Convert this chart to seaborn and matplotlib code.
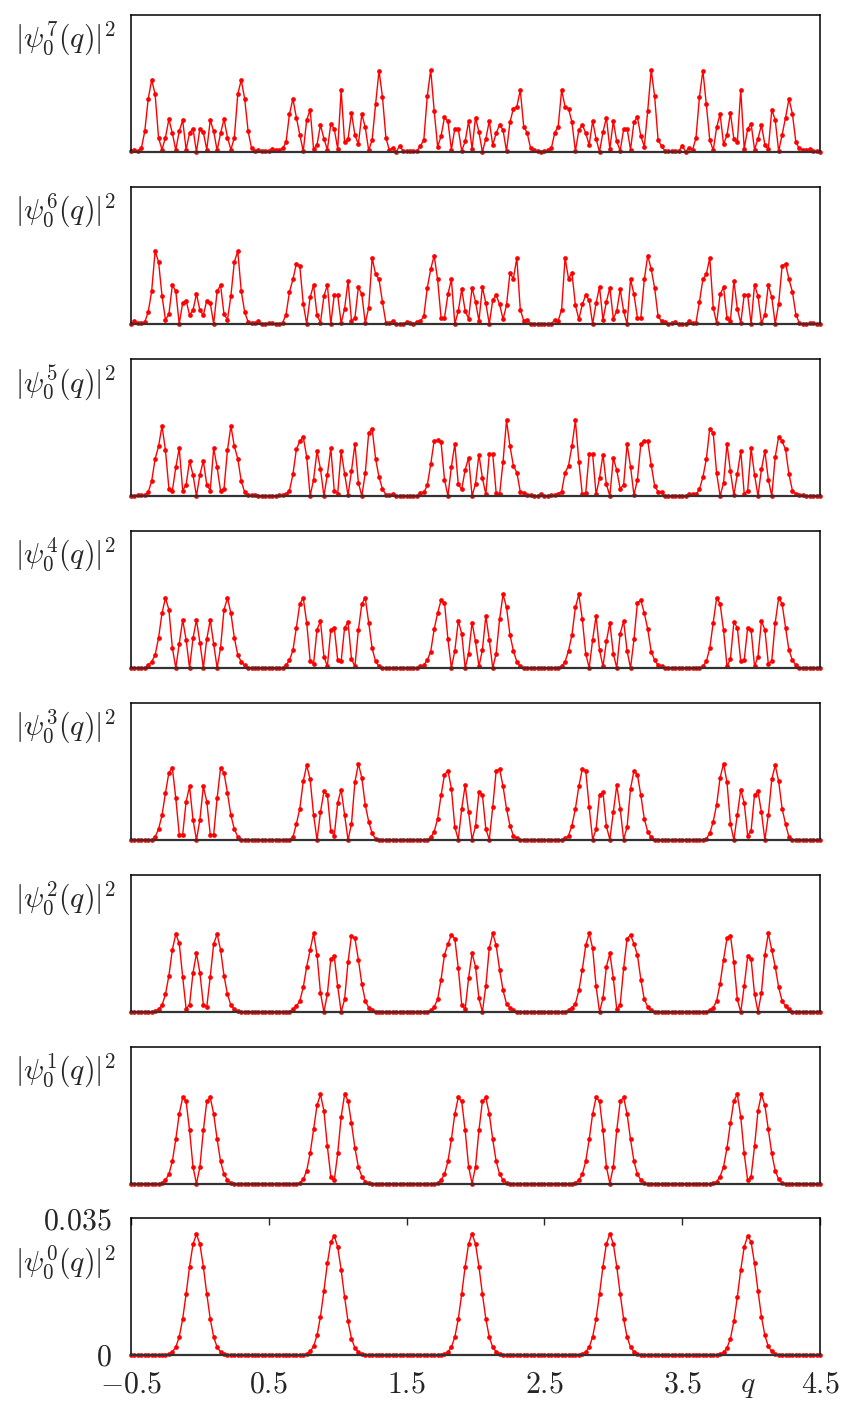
import numpy as np
import pandas as pd
import matplotlib
matplotlib.use("Agg")
import matplotlib.pyplot as plt
import seaborn as sns

# ---------------- data (values in units of 1e-3) ----------------
q = np.round(np.arange(201) * 0.025 - 0.5, 4)

psi0 = [0, 0, 0, 0, 0, 0, 0, 0, 0, 0,
        0.05, 0.25, 0.8, 2.0, 4.6, 9.2, 15.6, 22.6, 28.3, 30.9,
        28.3, 22.6, 15.6, 9.2, 4.6, 2.0, 0.8, 0.25, 0.05, 0,
        0, 0, 0, 0, 0, 0, 0, 0, 0, 0,
        0, 0, 0, 0, 0, 0, 0, 0, 0, 0,
        0.05, 0.3, 0.9, 2.2, 5.0, 9.8, 16.4, 23.4, 28.9, 30.4,
        27.6, 21.8, 14.8, 8.6, 4.2, 1.8, 0.7, 0.2, 0.05, 0,
        0, 0, 0, 0, 0, 0, 0, 0, 0, 0,
        0, 0, 0, 0, 0, 0, 0, 0, 0, 0,
        0.05, 0.25, 0.8, 2.0, 4.6, 9.2, 15.6, 22.6, 28.4, 31.0,
        28.4, 22.6, 15.6, 9.2, 4.6, 2.0, 0.8, 0.25, 0.05, 0,
        0, 0, 0, 0, 0, 0, 0, 0, 0, 0,
        0, 0, 0, 0, 0, 0, 0, 0, 0, 0,
        0.05, 0.25, 0.8, 2.0, 4.6, 9.2, 15.6, 22.6, 28.4, 31.0,
        28.4, 22.6, 15.6, 9.2, 4.6, 2.0, 0.8, 0.25, 0.05, 0,
        0, 0, 0, 0, 0, 0, 0, 0, 0, 0,
        0, 0, 0, 0, 0, 0, 0, 0, 0, 0,
        0.05, 0.2, 0.7, 1.8, 4.2, 8.6, 14.8, 21.8, 27.6, 30.4,
        28.9, 23.4, 16.4, 9.8, 5.0, 2.2, 0.9, 0.3, 0.05, 0,
        0, 0, 0, 0, 0, 0, 0, 0, 0, 0,
        0]

psi1 = [0, 0, 0, 0, 0, 0, 0, 0, 0, 0.3,
        1.0, 2.5, 5.8, 11.4, 17.9, 22.1, 21.1, 13.7, 4.4, 0,
        4.4, 13.7, 21.1, 22.1, 17.9, 11.4, 5.8, 2.5, 1.0, 0.3,
        0, 0, 0, 0, 0, 0, 0, 0, 0, 0,
        0, 0, 0, 0, 0, 0, 0, 0, 0, 0.3,
        1.2, 3.4, 7.8, 14.0, 20.1, 22.9, 18.7, 9.6, 1.9, 0.9,
        7.8, 17.1, 22.9, 21.3, 15.5, 9.2, 4.4, 1.9, 0.6, 0.2,
        0, 0, 0, 0, 0, 0, 0, 0, 0, 0,
        0, 0, 0, 0, 0, 0, 0, 0, 0, 0.3,
        1.0, 2.5, 5.8, 11.4, 17.9, 22.1, 21.1, 13.7, 4.4, 0.1,
        4.4, 13.7, 21.1, 22.1, 17.9, 11.4, 5.8, 2.5, 1.0, 0.3,
        0, 0, 0, 0, 0, 0, 0, 0, 0, 0,
        0, 0, 0, 0, 0, 0, 0, 0, 0, 0.3,
        1.0, 2.5, 5.8, 11.4, 17.9, 22.1, 21.1, 13.7, 4.4, 0.1,
        4.4, 13.7, 21.1, 22.1, 17.9, 11.4, 5.8, 2.5, 1.0, 0.3,
        0, 0, 0, 0, 0, 0, 0, 0, 0, 0,
        0, 0, 0, 0, 0, 0, 0, 0, 0, 0.2,
        0.6, 1.9, 4.4, 9.2, 15.5, 21.3, 22.9, 17.1, 7.8, 0.9,
        1.9, 9.6, 18.7, 22.9, 20.1, 14.0, 7.8, 3.4, 1.2, 0.3,
        0, 0, 0, 0, 0, 0, 0, 0, 0, 0,
        0]

psi2 = [0, 0, 0, 0, 0, 0.05, 0.1, 0.25, 0.7, 1.7,
        4.5, 9.3, 15.9, 19.9, 17.6, 9.0, 0.8, 1.9, 10.0, 15.0,
        10.0, 1.9, 1.3, 9.0, 17.4, 19.9, 15.9, 9.3, 4.5, 1.7,
        0.7, 0.25, 0.1, 0.05, 0, 0, 0, 0, 0, 0,
        0, 0, 0, 0, 0, 0.05, 0.1, 0.7, 1.5, 2.8,
        6.3, 11.6, 15.9, 20.1, 14.6, 4.9, 0, 4.6, 13.5, 14.2,
        6.6, 0, 3.2, 12.8, 19.5, 18.8, 13.4, 7.2, 2.9, 1.1,
        0.4, 0.1, 0.05, 0, 0, 0, 0, 0, 0, 0,
        0, 0, 0, 0, 0, 0.05, 0.1, 0.4, 1.3, 3.2,
        8.3, 14.6, 17.4, 19.7, 18.7, 11.2, 1.9, 0.7, 8.7, 15.0,
        11.6, 3.5, 0, 6.6, 16.3, 20.1, 17.0, 10.8, 5.5, 2.1,
        1.1, 0.4, 0.1, 0.05, 0, 0, 0, 0, 0, 0,
        0, 0, 0, 0, 0, 0.05, 0.1, 0.4, 1.1, 2.1,
        5.5, 10.8, 17.0, 20.1, 16.3, 6.6, 0, 3.5, 11.6, 15.0,
        8.7, 0.7, 1.9, 11.2, 18.7, 19.7, 17.4, 14.6, 8.3, 3.2,
        1.3, 0.4, 0.1, 0.05, 0, 0, 0, 0, 0, 0,
        0, 0, 0, 0, 0, 0, 0.05, 0.1, 0.4, 1.1,
        2.9, 7.2, 13.4, 18.8, 19.5, 12.8, 3.2, 0, 6.6, 14.2,
        13.5, 4.6, 0, 4.9, 14.6, 20.1, 15.9, 11.6, 6.3, 2.8,
        1.5, 0.7, 0.1, 0.05, 0, 0, 0, 0, 0, 0,
        0]

psi3 = [0, 0, 0, 0, 0, 0.05, 0.1, 0.8, 2.8, 6.3,
        12.0, 17.2, 18.4, 10.7, 1.4, 1.4, 9.8, 13.7, 5.2, 0,
        5.2, 13.7, 9.8, 1.4, 1.4, 10.7, 18.4, 17.2, 12.0, 6.3,
        2.8, 0.8, 0.1, 0.05, 0, 0, 0, 0, 0, 0,
        0, 0, 0, 0, 0, 0.05, 0.1, 0.7, 4.1, 8.0,
        15.0, 19.1, 15.5, 6.4, 0, 7.1, 12.4, 11.6, 2.4, 1.1,
        9.5, 12.9, 6.4, 0, 4.1, 14.8, 19.5, 15.9, 9.0, 4.7,
        1.7, 0.3, 0.05, 0, 0, 0, 0, 0, 0, 0,
        0, 0, 0, 0, 0, 0.05, 0.1, 0.7, 2.1, 5.4,
        11.4, 16.7, 17.7, 13.1, 3.3, 0.1, 8.0, 14.0, 7.1, 0.1,
        3.5, 12.2, 11.6, 2.8, 0.1, 8.4, 17.7, 18.1, 13.7, 8.0,
        3.7, 1.1, 0.4, 0.05, 0, 0, 0, 0, 0, 0,
        0, 0, 0, 0, 0, 0.05, 0.4, 1.1, 3.7, 8.0,
        13.7, 18.1, 17.7, 8.4, 0.1, 2.8, 11.6, 12.2, 3.5, 0.1,
        7.1, 14.0, 8.0, 0.1, 3.3, 13.1, 17.7, 16.7, 11.4, 5.4,
        2.1, 0.7, 0.1, 0.05, 0, 0, 0, 0, 0, 0,
        0, 0, 0, 0, 0, 0, 0.05, 0.3, 1.7, 4.7,
        9.0, 15.9, 19.5, 14.8, 4.1, 0, 6.4, 12.9, 9.5, 1.1,
        2.4, 11.6, 12.4, 7.1, 0, 6.4, 15.5, 19.1, 15.0, 8.0,
        4.1, 0.7, 0.1, 0.05, 0, 0, 0, 0, 0, 0,
        0]

psi4 = [0, 0, 0, 0, 0.1, 0.7, 1.6, 3.3, 7.7, 14.0,
        17.9, 14.9, 5.2, 0, 6.1, 12.3, 7.2, 0, 7.6, 12.3,
        6.5, 0, 7.4, 12.3, 6.1, 0, 5.2, 14.9, 17.9, 14.0,
        7.7, 3.3, 1.6, 0.7, 0.1, 0, 0, 0, 0, 0,
        0, 0, 0, 0, 0.1, 0.7, 2.0, 4.5, 10.3, 16.4,
        17.9, 11.6, 1.8, 1.1, 9.8, 12.0, 2.9, 0.4, 9.8, 10.3,
        2.0, 1.7, 10.3, 11.7, 2.3, 0.4, 9.7, 16.4, 17.9, 11.6,
        5.0, 1.7, 0.4, 0, 0, 0, 0, 0, 0, 0,
        0, 0, 0, 0.1, 0.4, 0.7, 2.0, 4.2, 9.9, 14.0,
        17.3, 16.7, 7.3, 0, 4.4, 12.0, 8.8, 0, 3.7, 11.6,
        6.8, 0.4, 4.6, 13.3, 7.2, 0, 3.7, 12.5, 18.8, 15.5,
        8.5, 4.4, 1.6, 0.4, 0.1, 0, 0, 0, 0, 0,
        0, 0, 0, 0, 0.1, 0.4, 1.6, 4.4, 8.5, 15.5,
        18.8, 12.5, 3.7, 0, 7.2, 13.3, 4.6, 0.4, 6.8, 11.6,
        3.7, 0, 8.8, 12.0, 4.4, 0, 7.3, 16.7, 17.3, 14.0,
        9.9, 4.2, 2.0, 0.7, 0.4, 0.1, 0, 0, 0, 0,
        0, 0, 0, 0, 0, 0, 0.4, 1.7, 5.0, 11.6,
        17.9, 16.4, 9.7, 0.4, 2.3, 11.7, 10.3, 1.7, 2.0, 10.3,
        9.8, 0.4, 2.9, 12.0, 9.8, 1.1, 1.8, 11.6, 17.9, 16.4,
        10.3, 4.5, 2.0, 0.7, 0.1, 0, 0, 0, 0, 0,
        0]

psi5 = [0, 0, 0.2, 0.2, 0.2, 1.0, 3.8, 9.5, 12.7, 17.9,
        11.7, 1.9, 1.3, 7.3, 12.2, 1.4, 2.9, 9.0, 5.4, 0,
        5.4, 9.0, 2.9, 1.4, 12.2, 7.3, 1.3, 1.9, 11.7, 17.9,
        12.7, 9.5, 3.8, 1.0, 0.2, 0.2, 0.2, 0, 0, 0,
        0, 0, 0, 0.2, 0.2, 0.5, 1.4, 5.5, 11.9, 14.0,
        15.1, 10.0, 0, 4.2, 11.5, 6.9, 0, 5.4, 12.2, 1.4,
        0.6, 11.5, 5.7, 0.2, 6.4, 13.3, 3.4, 0, 5.8, 16.1,
        17.2, 9.5, 4.8, 1.8, 0.3, 0.3, 0.5, 0, 0, 0,
        0, 0, 0, 0, 0.8, 0.9, 2.7, 8.1, 14.1, 14.2,
        13.7, 4.2, 0, 7.5, 13.3, 3.0, 1.7, 6.7, 9.8, 0,
        3.1, 10.6, 4.6, 0.4, 10.7, 10.7, 0.8, 0.4, 8.8, 19.3,
        12.8, 7.7, 6.0, 1.1, 0.8, 0.3, 0.2, 0, 0, 0.6,
        0, 0, 0.2, 0.3, 0.6, 1.1, 6.0, 7.7, 12.8, 19.3,
        8.8, 0.4, 0.8, 10.7, 10.7, 0.4, 4.6, 10.6, 3.0, 0,
        9.7, 6.6, 1.8, 2.9, 13.2, 7.5, 0.2, 4.2, 13.4, 14.1,
        14.1, 8.0, 2.6, 1.1, 1.0, 0, 0, 0, 0, 0,
        0, 0, 0.6, 0.4, 0.4, 1.7, 4.8, 9.4, 17.2, 16.1,
        5.8, 0, 3.3, 13.3, 6.3, 0.2, 5.6, 11.5, 0.6, 1.3,
        12.2, 5.4, 0, 6.8, 11.5, 4.2, 0, 10.0, 15.1, 14.0,
        11.9, 5.5, 1.4, 0.5, 0.2, 0.2, 0, 0, 0, 0,
        0]

psi6 = [0, 0.7, 0.2, 0.2, 0.5, 3.1, 8.4, 18.6, 15.9, 7.2,
        1.1, 2.5, 9.9, 8.4, 0, 5.4, 6.0, 2.3, 3.5, 7.7,
        3.5, 2.3, 6.0, 5.4, 0, 8.4, 9.9, 2.5, 1.1, 7.2,
        15.9, 18.6, 8.4, 3.1, 0.5, 0.2, 0.2, 0.7, 0, 0.1,
        0.2, 0.2, 0, 0, 0.3, 2.4, 8.2, 11.4, 15.4, 14.8,
        5.2, 0, 6.8, 10.0, 2.3, 0.3, 7.1, 10.0, 0, 7.4,
        7.4, 0.2, 3.9, 11.0, 0.8, 1.6, 9.4, 7.6, 0.2, 4.2,
        16.9, 12.7, 11.4, 5.6, 0.3, 0.2, 0.8, 0, 0, 0,
        0.5, 0.2, 0, 0.5, 0.7, 2.0, 9.2, 14.0, 17.5, 11.4,
        1.6, 1.6, 7.6, 11.4, 0, 3.3, 8.9, 3.3, 1.4, 9.3,
        5.7, 0.8, 9.5, 5.3, 0, 6.1, 7.4, 5.0, 1.2, 4.8,
        13.0, 11.6, 16.9, 3.7, 0.8, 1.1, 0, 0, 0, 0,
        0, 0, 0, 1.1, 0.8, 3.7, 16.9, 11.6, 13.0, 4.8,
        1.2, 5.0, 7.4, 6.1, 0, 5.3, 9.5, 1.0, 5.7, 9.3,
        1.4, 3.3, 8.9, 3.3, 0, 11.4, 7.6, 1.6, 1.6, 11.4,
        17.5, 14.0, 9.2, 2.0, 0.7, 0.5, 0, 0.2, 0.5, 0,
        0, 0, 0.8, 0.2, 0.3, 5.6, 11.4, 12.7, 16.9, 4.2,
        0.2, 7.6, 9.4, 1.6, 0.8, 11.0, 3.9, 0.2, 7.4, 7.4,
        0, 10.0, 7.1, 0.3, 2.3, 10.0, 6.8, 0, 5.2, 14.8,
        15.4, 11.4, 8.2, 2.4, 0.3, 0, 0, 0.2, 0.2, 0,
        0]

psi7 = [0.2, 0.5, 0.2, 0.9, 5.3, 13.6, 18.4, 14.8, 3.6, 0.6,
        3.7, 8.4, 4.8, 0.5, 5.3, 8.1, 0.6, 4.9, 6.0, 0,
        6.0, 5.0, 0.6, 8.1, 5.3, 0.4, 4.8, 8.4, 3.7, 0.6,
        3.7, 14.8, 18.4, 13.6, 5.3, 0.9, 0.2, 0.5, 0.2, 0.3,
        0.2, 0.8, 0.5, 0.5, 0.9, 2.5, 9.7, 13.6, 8.8, 4.4,
        0.2, 8.2, 10.8, 0.7, 1.9, 6.9, 3.4, 0.6, 7.2, 5.9,
        0.8, 15.8, 2.5, 3.3, 10.0, 4.3, 2.0, 9.7, 6.3, 0.4,
        3.1, 12.2, 20.8, 14.0, 3.6, 0.5, 1.1, 0.1, 1.6, 0.2,
        0.2, 0.2, 0.2, 0.3, 1.5, 3.1, 14.2, 21.0, 10.6, 1.4,
        4.0, 8.9, 7.8, 0.6, 6.0, 5.8, 0.3, 2.7, 7.9, 0.8,
        8.8, 5.1, 0, 3.4, 7.9, 1.8, 4.8, 7.0, 5.6, 0.2,
        7.6, 11.1, 11.6, 15.8, 6.5, 4.9, 0.9, 0.4, 0.2, 0.1,
        0.2, 0.4, 0.9, 4.9, 6.5, 15.8, 11.6, 11.1, 7.6, 0.2,
        5.6, 7.0, 4.8, 1.8, 7.9, 3.4, 0, 5.1, 8.8, 0.8,
        7.9, 2.7, 0.3, 5.8, 6.0, 0.6, 7.7, 8.9, 4.0, 1.4,
        10.6, 21.0, 14.2, 3.1, 1.5, 0.3, 0.2, 0.2, 0.2, 0.2,
        1.6, 0.1, 1.1, 0.5, 3.6, 14.0, 20.8, 12.2, 3.1, 0.4,
        6.3, 9.7, 2.0, 4.3, 10.0, 3.3, 2.5, 15.8, 0.8, 5.9,
        7.2, 0.6, 3.4, 6.9, 1.9, 0.7, 10.8, 8.2, 0.2, 4.4,
        8.8, 13.6, 9.7, 2.5, 0.9, 0.5, 0.5, 0.8, 0.2, 0.2,
        0.1]

series = [psi7, psi6, psi5, psi4, psi3, psi2, psi1, psi0]
levels = [7, 6, 5, 4, 3, 2, 1, 0]
x_ticks = [-0.5, 0.5, 1.5, 2.5, 3.5, 4.5]
x_ticklabels = ["$-0.5$", "$0.5$", "$1.5$", "$2.5$", "$3.5$", "$4.5$"]
y_ticks = [0, 0.035]
y_ticklabels = ["$0$", "$0.035$"]

# ---------------- style ----------------
sns.set_style("white")
plt.rcParams["mathtext.fontset"] = "cm"
plt.rcParams["font.family"] = ["DejaVu Serif"]

W, H = 841, 1401
FS = 21.5
fig = plt.figure(figsize=(W / 100, H / 100), dpi=100)

tops = [15, 187, 359, 531, 703, 875, 1047, 1218]
left_px, width_px, height_px = 131, 689, 137

for top, n, vals in zip(tops, levels, series):
    assert len(vals) == len(q)
    ax = fig.add_axes([left_px / W, 1 - (top + height_px) / H, width_px / W, height_px / H])
    df = pd.DataFrame({"q": q, "p": np.array(vals) * 1e-3})
    sns.lineplot(data=df, x="q", y="p", ax=ax, color="#ff0000", linewidth=1.0,
                 marker="o", markersize=3.4, markeredgewidth=0, estimator=None, sort=False)
    for ln in ax.get_lines():
        ln.set_clip_on(False)
    ax.set_xlim(-0.5, 4.5)
    ax.set_ylim(0, 0.035)
    ax.set_xlabel("")
    ax.set_ylabel("")
    for s in ax.spines.values():
        s.set_color("black")
        s.set_linewidth(1.1)
    ax.spines["bottom"].set_linewidth(1.6)
    ax.spines["bottom"].set_color("#333333")
    if n > 0:
        ax.set_xticks([])
        ax.set_yticks([])
        ylab_y = top + 24
    else:
        ax.set_xticks(x_ticks)
        ax.set_xticklabels(x_ticklabels)
        ax.set_yticks(y_ticks)
        ax.set_yticklabels(y_ticklabels)
        ax.tick_params(axis="x", direction="in", top=True, bottom=False,
                       labelbottom=True, labeltop=False, length=5, width=1,
                       labelsize=FS, pad=11)
        ax.tick_params(axis="y", direction="in", length=0, labelsize=FS, pad=14)
        ylab_y = top + 45
        fig.text(748 / W, 1 - 1386 / H, "$q$", fontsize=FS, ha="center", va="center")
    fig.text(116 / W, 1 - ylab_y / H, r"$|\psi_0^{%d}(q)|^2$" % n,
             fontsize=FS, ha="right", va="center")

fig.savefig("out.png", dpi=100)
